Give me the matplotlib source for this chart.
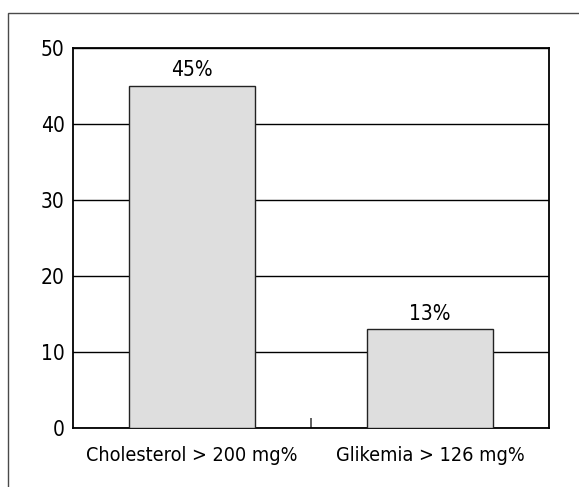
import matplotlib.pyplot as plt
from matplotlib.patches import Rectangle

categories = ['Cholesterol > 200 mg%', 'Glikemia > 126 mg%']
values = [45, 13]
bar_labels = ['45%', '13%']
yticks = [0, 10, 20, 30, 40, 50]

plt.rcParams['font.family'] = ['DejaVu Sans']
plt.rcParams['font.stretch'] = 'condensed'

W, H = 579, 487
fig = plt.figure(figsize=(W / 100, H / 100), dpi=100)

# outer frame, open to the right and bottom
fig.patches.append(Rectangle((8 / W, -0.1), 1.2, 1.1 - 13 / H,
                             transform=fig.transFigure, fill=False,
                             edgecolor='#4a4a4a', linewidth=1.0))

ax = fig.add_axes([73 / W, 1 - 428 / H, (549 - 73) / W, (428 - 48) / H])
x = list(range(len(categories)))
ax.bar(x, values, width=0.53, color='#dedede', edgecolor='#222222',
       linewidth=1.0, zorder=3)
for xi, v, lab in zip(x, values, bar_labels):
    ax.text(xi, v + 1.25, lab, ha='center', va='baseline', fontsize=15)

ax.set_ylim(0, 50)
ax.set_xlim(-0.5, 1.5)
ax.set_yticks(yticks)
ax.set_yticklabels([str(t) for t in yticks], fontsize=15)
ax.yaxis.grid(True, color='black', linewidth=1.0, zorder=0)
ax.set_axisbelow(True)
ax.tick_params(axis='y', length=0, pad=6)
ax.set_xticks(x)
ax.set_xticklabels(categories, fontsize=14.2)
ax.tick_params(axis='x', length=0, pad=13)
# separator tick between the categories
ax.set_xticks([0.5], minor=True)
ax.tick_params(axis='x', which='minor', direction='in', length=7,
               width=1.2, color='#444444')
for s in ax.spines.values():
    s.set_linewidth(1.3)

fig.savefig('out.png', dpi=100)
